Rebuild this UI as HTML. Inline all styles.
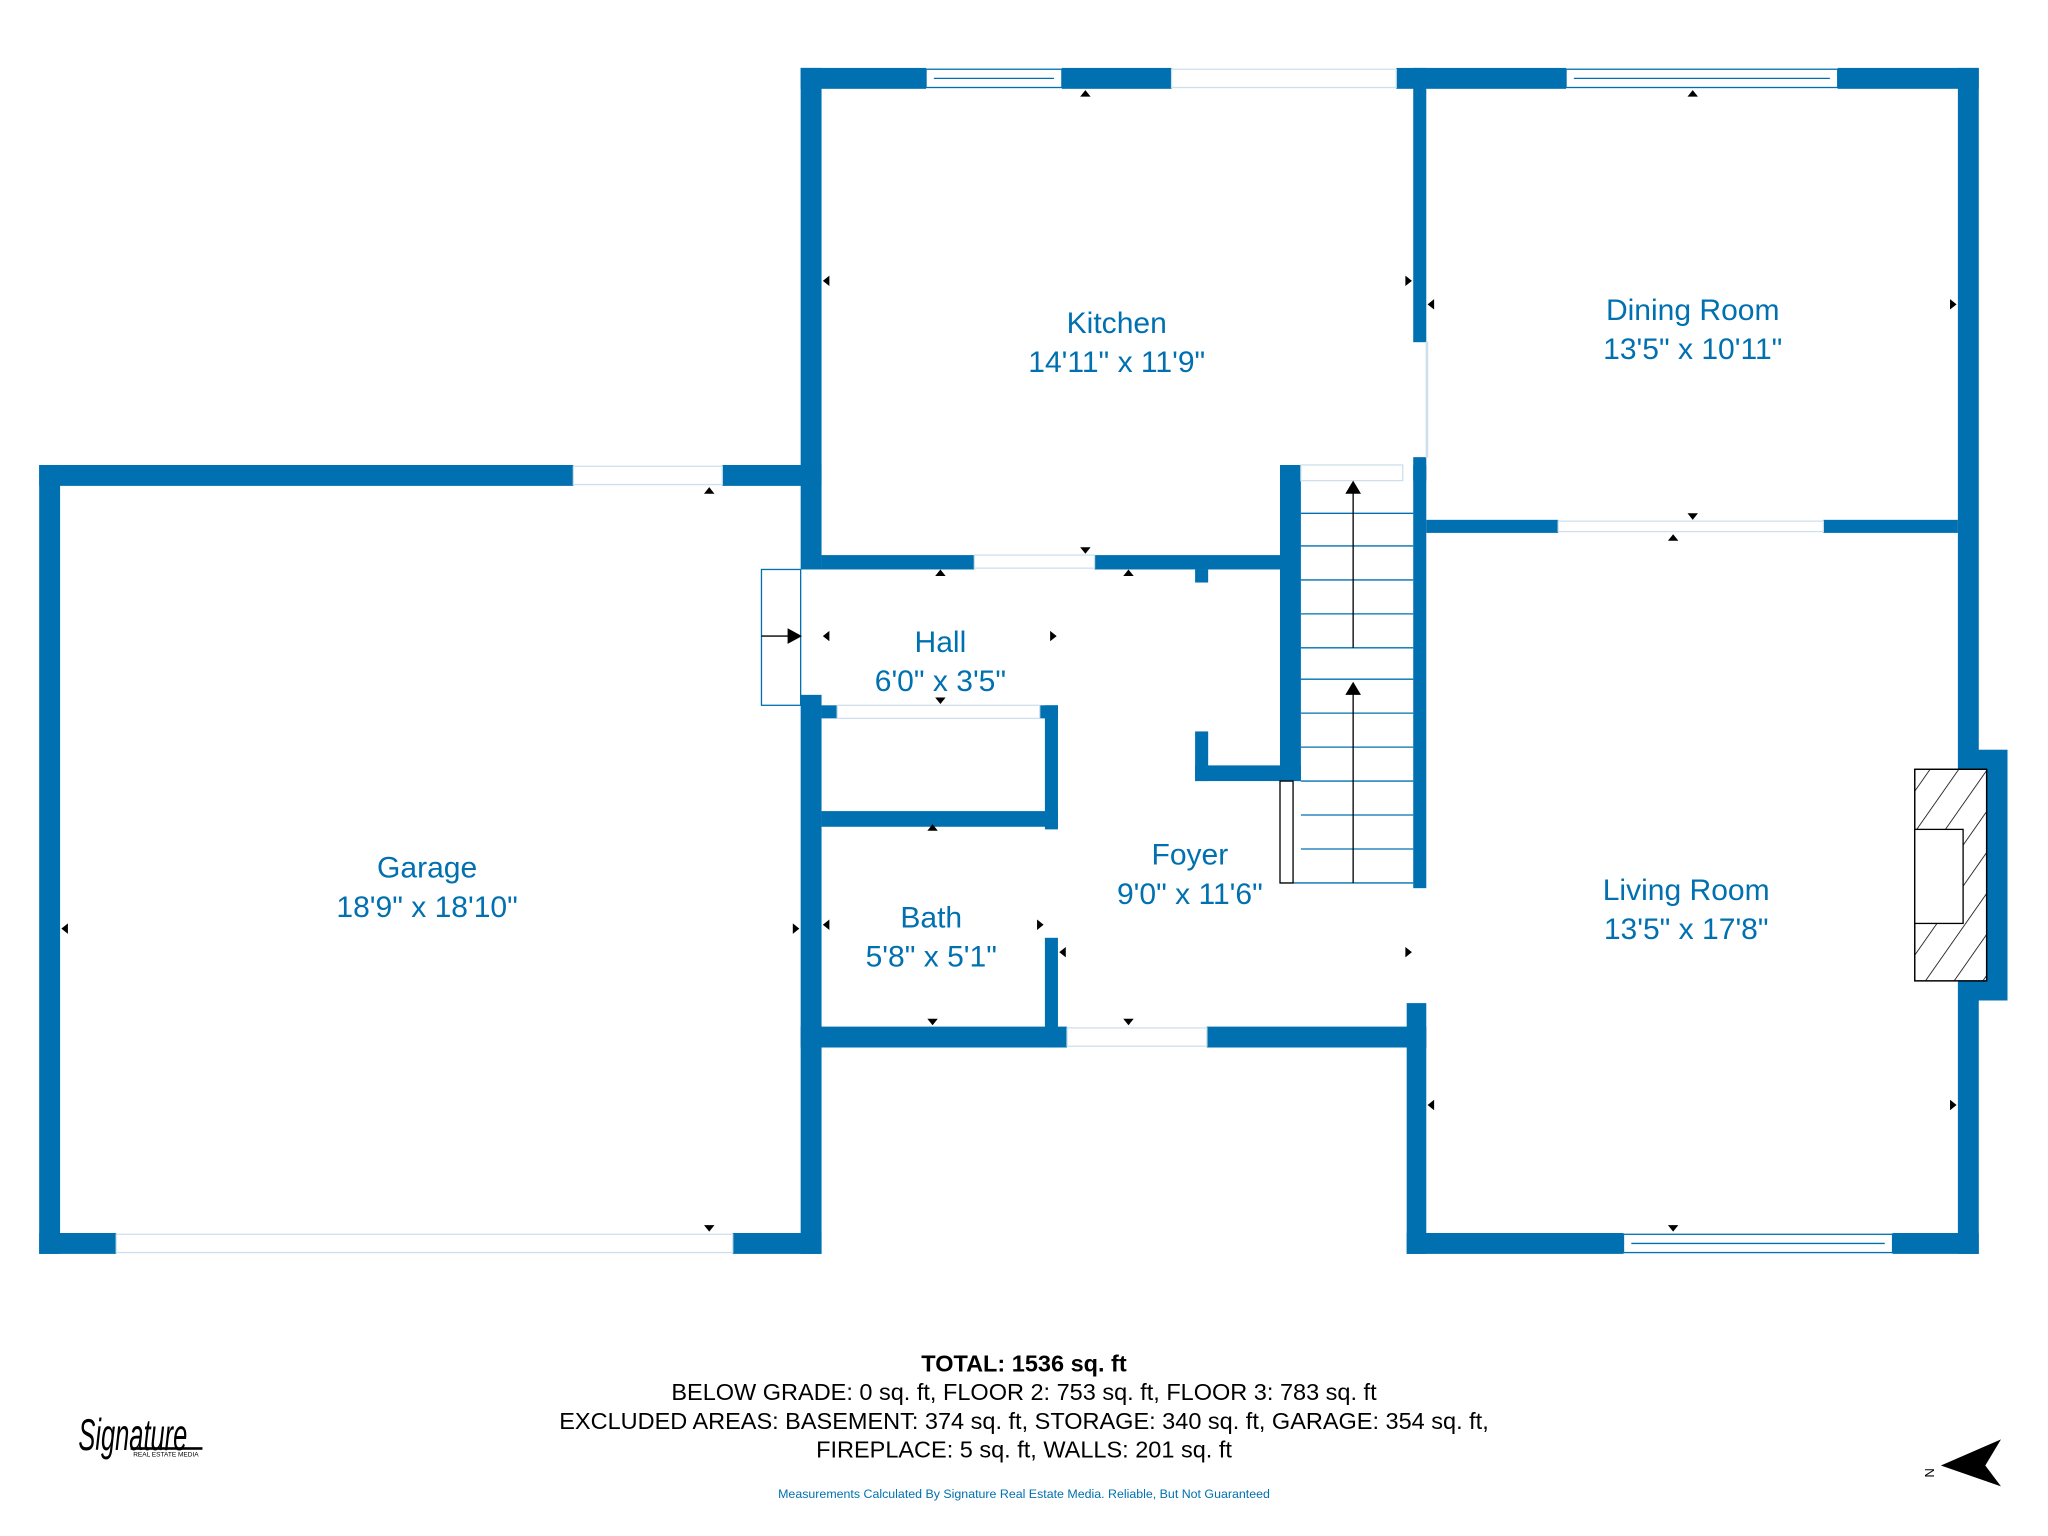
<!DOCTYPE html>
<html><head><meta charset="utf-8"><style>
html,body{margin:0;padding:0;background:#fff;}
svg{display:block;}
text{font-family:"Liberation Sans",sans-serif;}
</style></head><body>
<svg width="2048" height="1536" viewBox="0 0 1568 1176" xmlns="http://www.w3.org/2000/svg">
<g fill="#0070b0">
<rect x="613" y="52" width="96" height="16"/>
<rect x="813" y="52" width="84" height="16"/>
<rect x="1069" y="52" width="130" height="16"/>
<rect x="1407" y="52" width="108" height="16"/>
<rect x="613" y="52" width="16" height="384"/>
<rect x="613" y="532" width="16" height="428"/>
<rect x="30" y="356" width="409" height="16"/>
<rect x="553" y="356" width="76" height="16"/>
<rect x="30" y="356" width="16" height="604"/>
<rect x="30" y="944" width="59" height="16"/>
<rect x="561" y="944" width="68" height="16"/>
<rect x="1082" y="52" width="10" height="210"/>
<rect x="1082" y="350" width="10" height="330"/>
<rect x="1077" y="768" width="15" height="192"/>
<rect x="1499" y="52" width="16" height="908"/>
<rect x="1510" y="574" width="27" height="192"/>
<rect x="1092" y="398" width="101" height="10"/>
<rect x="1396" y="398" width="103" height="10"/>
<rect x="1077" y="944" width="166" height="16"/>
<rect x="1449" y="944" width="66" height="16"/>
<rect x="613" y="786" width="204" height="16"/>
<rect x="924" y="786" width="168" height="16"/>
<rect x="629" y="425" width="117" height="11"/>
<rect x="838" y="425" width="142" height="11"/>
<rect x="980" y="356" width="16" height="242"/>
<rect x="915" y="586" width="81" height="12"/>
<rect x="915" y="560" width="10" height="38"/>
<rect x="915" y="436" width="10" height="10"/>
<rect x="1082" y="356" width="10" height="12"/>
<rect x="629" y="540" width="12" height="10"/>
<rect x="796" y="540" width="14" height="10"/>
<rect x="800" y="540" width="10" height="95"/>
<rect x="629" y="621" width="181" height="12"/>
<rect x="800" y="718" width="10" height="84"/>
</g>
<g fill="#fff" stroke="#0070b0" stroke-width="1">
<rect x="709" y="53" width="104" height="14"/>
<line x1="715" y1="60" x2="807" y2="60"/>
<rect x="1199" y="53" width="208" height="14"/>
<line x1="1205" y1="60" x2="1401" y2="60"/>
<rect x="1243" y="945" width="206" height="14"/>
<line x1="1249" y1="952" x2="1443" y2="952"/>
</g>
<g fill="none" stroke="#cfe0ec" stroke-width="1">
<rect x="897" y="53" width="172" height="14"/>
<rect x="439" y="357" width="114" height="14"/>
<rect x="89" y="945" width="472" height="14"/>
<rect x="1193" y="399" width="203" height="8"/>
<rect x="746" y="425" width="92" height="10"/>
<rect x="817" y="787" width="107" height="14"/>
<rect x="641" y="540" width="155" height="10"/>
<rect x="1092" y="262" width="1" height="88"/>
<rect x="996" y="356" width="78" height="12"/>
</g>
<rect x="583" y="436" width="30" height="104" fill="none" stroke="#0070b0" stroke-width="1"/>
<line x1="583" y1="487" x2="605" y2="487" stroke="#000" stroke-width="1"/>
<polygon points="614,487 603,481 603,493" fill="#000"/>
<g stroke="#0070b0" stroke-width="1">
<line x1="996" y1="393" x2="1082" y2="393"/>
<line x1="996" y1="418" x2="1082" y2="418"/>
<line x1="996" y1="444" x2="1082" y2="444"/>
<line x1="996" y1="470" x2="1082" y2="470"/>
<line x1="996" y1="496" x2="1082" y2="496"/>
<line x1="996" y1="520" x2="1082" y2="520"/>
<line x1="996" y1="546" x2="1082" y2="546"/>
<line x1="996" y1="572" x2="1082" y2="572"/>
<line x1="996" y1="598" x2="1082" y2="598"/>
<line x1="996" y1="624" x2="1082" y2="624"/>
<line x1="996" y1="650" x2="1082" y2="650"/>
<line x1="980" y1="676" x2="1082" y2="676"/>
</g>
<rect x="980" y="598" width="10" height="78" fill="#fff" stroke="#000" stroke-width="1"/>
<g stroke="#000" stroke-width="1">
<line x1="1036" y1="375" x2="1036" y2="496"/>
<line x1="1036" y1="528" x2="1036" y2="676"/>
</g>
<polygon points="1036,368 1030,378 1042,378" fill="#000"/>
<polygon points="1036,522 1030,532 1042,532" fill="#000"/>
<defs><pattern id="h" width="18" height="18" patternUnits="userSpaceOnUse" patternTransform="rotate(35)"><line x1="0" y1="0" x2="0" y2="18" stroke="#000" stroke-width="1.2"/></pattern></defs>
<rect x="1466" y="589" width="55" height="162" fill="#fff" stroke="#000"/>
<rect x="1466" y="589" width="55" height="162" fill="url(#h)" stroke="#000"/>
<rect x="1466" y="635" width="37" height="72" fill="#fff" stroke="#000"/>
<g fill="#000">
<polygon points="831,69 827,74 835,74"/><polygon points="1296,69 1292,74 1300,74"/>
<polygon points="630,215 635,211 635,219"/><polygon points="1081,215 1076,211 1076,219"/>
<polygon points="1093,233 1098,229 1098,237"/><polygon points="1498,233 1493,229 1493,237"/>
<polygon points="1296,398 1292,393 1300,393"/><polygon points="1281,409 1277,414 1285,414"/>
<polygon points="831,424 827,419 835,419"/><polygon points="720,436 716,441 724,441"/><polygon points="864,436 860,441 868,441"/>
<polygon points="630,487 635,483 635,491"/><polygon points="809,487 804,483 804,491"/>
<polygon points="720,539 716,534 724,534"/><polygon points="714,631 710,636 718,636"/>
<polygon points="543,373 539,378 547,378"/><polygon points="543,943 539,938 547,938"/>
<polygon points="47,711 52,707 52,715"/><polygon points="612,711 607,707 607,715"/>
<polygon points="630,708 635,704 635,712"/><polygon points="799,708 794,704 794,712"/>
<polygon points="714,785 710,780 718,780"/><polygon points="864,785 860,780 868,780"/>
<polygon points="811,729 816,725 816,733"/><polygon points="1081,729 1076,725 1076,733"/>
<polygon points="1093,846 1098,842 1098,850"/><polygon points="1498,846 1493,842 1493,850"/>
<polygon points="1281,943 1277,938 1285,938"/>
</g>
<g fill="#0070b0" font-size="23" text-anchor="middle">
<text x="855" y="255">Kitchen</text><text x="855" y="285">14'11" x 11'9"</text>
<text x="1296" y="245">Dining Room</text><text x="1296" y="275">13'5" x 10'11"</text>
<text x="720" y="499">Hall</text><text x="720" y="529">6'0" x 3'5"</text>
<text x="327" y="672">Garage</text><text x="327" y="702">18'9" x 18'10"</text>
<text x="911" y="662">Foyer</text><text x="911" y="692">9'0" x 11'6"</text>
<text x="713" y="710">Bath</text><text x="713" y="740">5'8" x 5'1"</text>
<text x="1291" y="689">Living Room</text><text x="1291" y="719">13'5" x 17'8"</text>
</g>
<g fill="#000" font-size="18" text-anchor="middle">
<text x="784" y="1050" font-weight="bold">TOTAL: 1536 sq. ft</text>
<text x="784" y="1072">BELOW GRADE: 0 sq. ft, FLOOR 2: 753 sq. ft, FLOOR 3: 783 sq. ft</text>
<text x="784" y="1094">EXCLUDED AREAS: BASEMENT: 374 sq. ft, STORAGE: 340 sq. ft, GARAGE: 354 sq. ft,</text>
<text x="784" y="1116">FIREPLACE: 5 sq. ft, WALLS: 201 sq. ft</text>
</g>
<text x="784" y="1147" fill="#0070b0" font-size="9.5" text-anchor="middle">Measurements Calculated By Signature Real Estate Media. Reliable, But Not Guaranteed</text>
<text x="60" y="1110" font-family="Liberation Serif,serif" font-style="italic" font-size="26" fill="#000" transform="translate(60 1110) scale(0.75 1.3) translate(-60 -1110)">Signature</text>
<rect x="100" y="1108" width="55" height="2" fill="#000"/>
<text x="102" y="1115" font-size="5" fill="#000">REAL ESTATE MEDIA</text>
<polygon points="1486,1122 1532,1102 1520,1122 1532,1138" fill="#000"/>
<text x="1476" y="1126" font-size="10" fill="#000" transform="rotate(90 1476 1124)">N</text>
</svg>
</body></html>
